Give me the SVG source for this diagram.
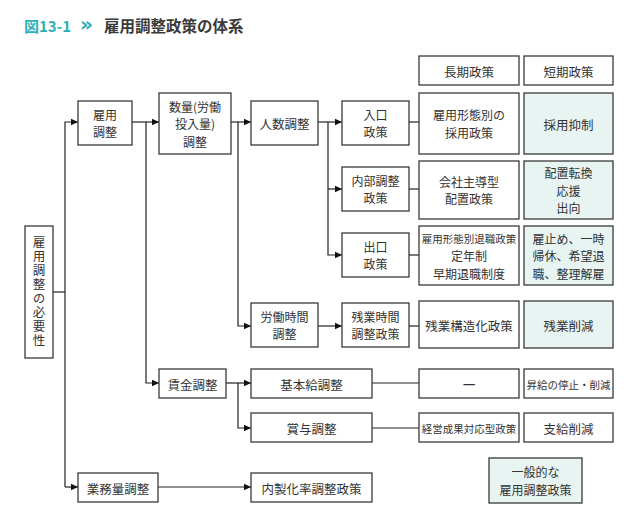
<svg xmlns="http://www.w3.org/2000/svg" width="640" height="532" viewBox="0 0 640 532">
<style>
.b{fill:#fff;stroke:#3a3a3a;stroke-width:1.3}
.g{fill:#e7f4f2;stroke:#3a3a3a;stroke-width:1.3}
text{font-family:"Noto Sans CJK JP","Noto Sans",sans-serif;fill:#333;font-size:12px;text-anchor:middle;dominant-baseline:central}
.m{font-size:12.5px}
.s{font-size:10.5px}
.c{fill:none;stroke:#222;stroke-width:1.2}
</style>
<defs>
<marker id="a" markerWidth="8" markerHeight="8" refX="7" refY="4" orient="auto" markerUnits="userSpaceOnUse">
<path d="M0,0.8 L7,4 L0,7.2 Z" fill="#111"/>
</marker>
</defs>
<rect width="640" height="532" fill="#fff"/>
<g id="title">
<text x="24" y="25" style="text-anchor:start;font-size:15px;font-weight:bold;fill:#2bb0b8">図13-1</text>
<text x="80" y="24" style="text-anchor:start;font-size:20px;font-weight:bold;fill:#2bb0b8;font-family:'DejaVu Sans',sans-serif">»</text>
<text x="104" y="25" style="text-anchor:start;font-size:15.5px;font-weight:bold;fill:#3a3a3a">雇用調整政策の体系</text>
</g>
<g id="connectors">
<path class="c" d="M53,292 H65"/>
<path class="c" d="M65,487 V122 H78" marker-end="url(#a)"/>
<path class="c" d="M65,487 H78" marker-end="url(#a)"/>
<path class="c" d="M132,122 H146 H159" marker-end="url(#a)"/>
<path class="c" d="M146,122 V383 H159" marker-end="url(#a)"/>
<path class="c" d="M231,122 H251" marker-end="url(#a)"/>
<path class="c" d="M238,122 V326 H251" marker-end="url(#a)"/>
<path class="c" d="M318,122 H342" marker-end="url(#a)"/>
<path class="c" d="M328,122 V255 H342" marker-end="url(#a)"/>
<path class="c" d="M328,189 H342" marker-end="url(#a)"/>
<path class="c" d="M318,326 H342" marker-end="url(#a)"/>
<path class="c" d="M226,383 H251" marker-end="url(#a)"/>
<path class="c" d="M238,383 V428 H251" marker-end="url(#a)"/>
<path class="c" d="M158,487 H251" marker-end="url(#a)"/>
<path class="c" d="M409,122 H419"/>
<path class="c" d="M409,189 H419"/>
<path class="c" d="M409,255 H419"/>
<path class="c" d="M409,326 H419"/>
<path class="c" d="M372,383 H419"/>
<path class="c" d="M372,428 H419"/>
</g>
<g id="n-hitsuyo"><rect class="b" x="25" y="226" width="28" height="132"/>
<text class="m" x="39" y="292" style="writing-mode:vertical-rl;letter-spacing:1.5px">雇用調整の必要性</text></g>
<g id="n-koyo"><rect class="b" x="78" y="101" width="54" height="44"/><text x="105" y="114.25">雇用</text><text x="105" y="131.75">調整</text></g>
<g id="n-suryo"><rect class="b" x="159" y="93" width="72" height="61"/><text x="195" y="106">数量(労働</text><text x="195" y="123.5">投入量)</text><text x="195" y="141">調整</text></g>
<g id="n-ninzu"><rect class="b" x="251" y="101" width="67" height="44"/><text class="m" x="284.5" y="123">人数調整</text></g>
<g id="n-iriguchi"><rect class="b" x="342" y="101" width="67" height="44"/><text x="375.5" y="114.25">入口</text><text x="375.5" y="131.75">政策</text></g>
<g id="n-naibu"><rect class="b" x="342" y="167" width="67" height="44"/><text x="375.5" y="180.25">内部調整</text><text x="375.5" y="197.75">政策</text></g>
<g id="n-deguchi"><rect class="b" x="342" y="233" width="67" height="44"/><text x="375.5" y="246.25">出口</text><text x="375.5" y="263.75">政策</text></g>
<g id="n-rodojikan"><rect class="b" x="251" y="303" width="67" height="44"/><text x="284.5" y="316.25">労働時間</text><text x="284.5" y="333.75">調整</text></g>
<g id="n-zangyojikan"><rect class="b" x="342" y="303" width="67" height="44"/><text x="375.5" y="316.25">残業時間</text><text x="375.5" y="333.75">調整政策</text></g>
<g id="n-chingin"><rect class="b" x="159" y="369" width="67" height="29"/><text class="m" x="192.5" y="384">賃金調整</text></g>
<g id="n-kihonkyu"><rect class="b" x="251" y="369" width="121" height="29"/><text class="m" x="311.5" y="384">基本給調整</text></g>
<g id="n-shoyo"><rect class="b" x="251" y="413" width="121" height="29"/><text class="m" x="311.5" y="428">賞与調整</text></g>
<g id="n-gyomu"><rect class="b" x="78" y="473" width="80" height="29"/><text class="m" x="118" y="488">業務量調整</text></g>
<g id="n-naisei"><rect class="b" x="251" y="473" width="121" height="29"/><text class="m" x="311.5" y="488">内製化率調整政策</text></g>
<g id="h-choki"><rect class="b" x="419" y="56" width="100" height="29"/><text class="m" x="469" y="71">長期政策</text></g>
<g id="h-tanki"><rect class="b" x="524" y="56" width="89" height="29"/><text class="m" x="568.5" y="71">短期政策</text></g>
<g id="l-saiyo"><rect class="b" x="419" y="93" width="100" height="61"/><text x="469" y="114.75">雇用形態別の</text><text x="469" y="132.25">採用政策</text></g>
<g id="s-saiyo"><rect class="g" x="524" y="93" width="89" height="61"/><text class="m" x="568.5" y="124">採用抑制</text></g>
<g id="l-haichi"><rect class="b" x="419" y="161" width="100" height="58"/><text x="469" y="181.25">会社主導型</text><text x="469" y="198.75">配置政策</text></g>
<g id="s-haichi"><rect class="g" x="524" y="161" width="89" height="58"/><text x="568.5" y="172.5">配置転換</text><text x="568.5" y="190">応援</text><text x="568.5" y="207.5">出向</text></g>
<g id="l-taishoku"><rect class="b" x="419" y="226" width="100" height="59"/><text class="s" x="469" y="238.5">雇用形態別退職政策</text><text x="469" y="255.5">定年制</text><text x="469" y="273">早期退職制度</text></g>
<g id="s-taishoku"><rect class="g" x="524" y="226" width="89" height="59"/><text x="568.5" y="238">雇止め、一時</text><text x="568.5" y="255.5">帰休、希望退</text><text x="568.5" y="273">職、整理解雇</text></g>
<g id="l-zangyo"><rect class="b" x="419" y="301" width="100" height="47"/><text class="m" x="469" y="325">残業構造化政策</text></g>
<g id="s-zangyo"><rect class="g" x="524" y="301" width="89" height="47"/><text class="m" x="568.5" y="325">残業削減</text></g>
<g id="l-kihon"><rect class="b" x="419" y="369" width="100" height="29"/><text x="469" y="383" style="font-weight:bold;font-size:14px">—</text></g>
<g id="s-kihon"><rect class="b" x="524" y="369" width="89" height="29"/><text class="s" x="568.5" y="384">昇給の停止・削減</text></g>
<g id="l-shoyo"><rect class="b" x="419" y="413" width="100" height="29"/><text class="s" x="469" y="428">経営成果対応型政策</text></g>
<g id="s-shoyo"><rect class="b" x="524" y="413" width="89" height="29"/><text class="m" x="568.5" y="428">支給削減</text></g>
<g id="legend"><rect class="g" x="489" y="458" width="93" height="45"/><text x="535.5" y="471.75">一般的な</text><text x="535.5" y="489.25">雇用調整政策</text></g>
</svg>
